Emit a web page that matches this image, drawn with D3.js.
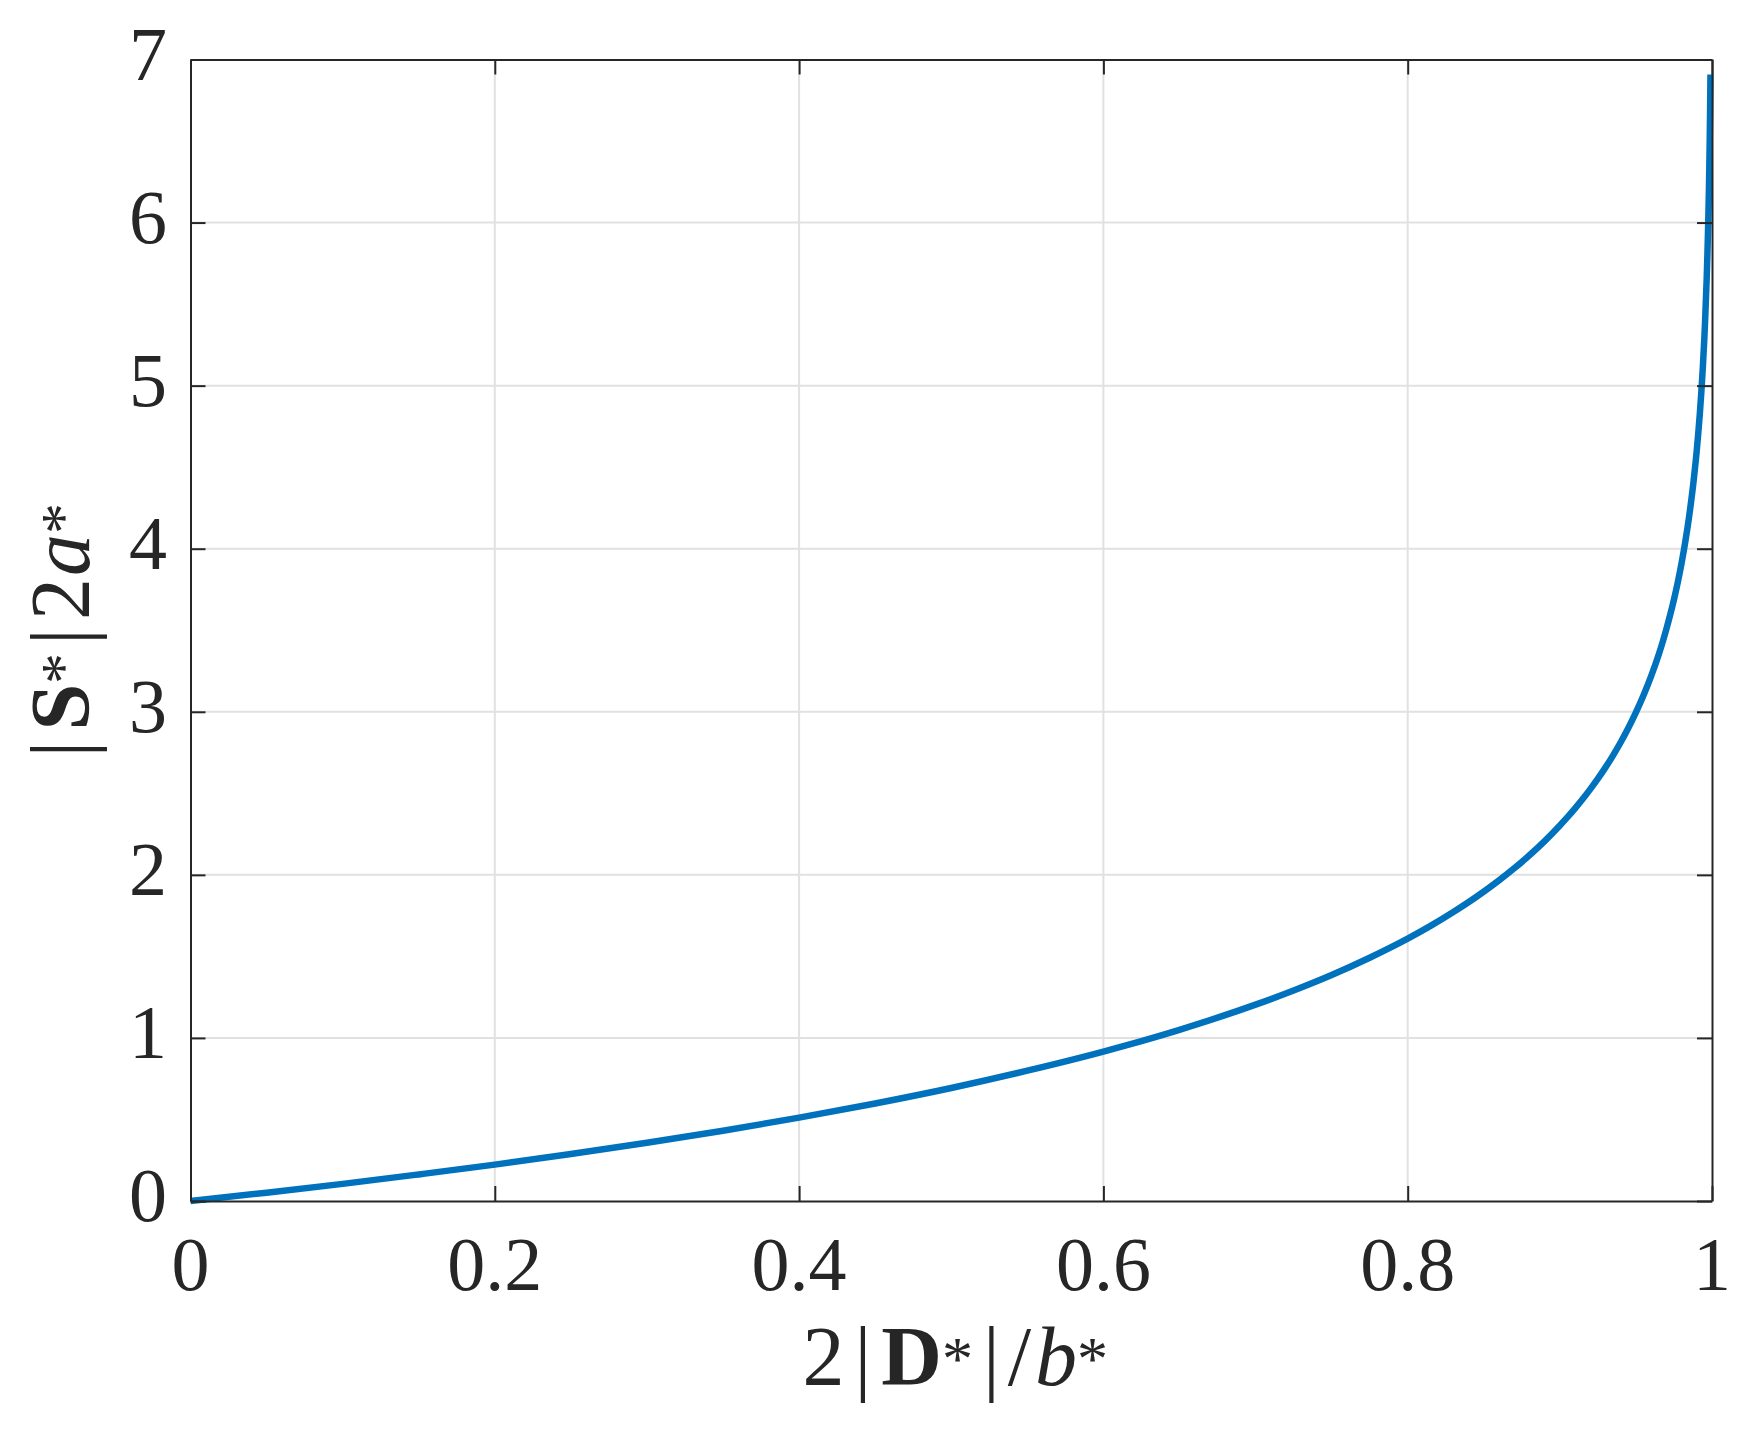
<!DOCTYPE html>
<html>
<head>
<meta charset="utf-8">
<script src="https://cdn.jsdelivr.net/npm/d3@7"></script>
<style>
  html, body { margin: 0; padding: 0; background: #ffffff; }
  svg { display: block; }
</style>
</head>
<body>
<svg id="chart" width="1757" height="1432"></svg>
<script>
// ---- data ----
const xTicks = [0, 0.2, 0.4, 0.6, 0.8, 1];
const xTickLabels = ["0", "0.2", "0.4", "0.6", "0.8", "1"];
const yTicks = [0, 1, 2, 3, 4, 5, 6, 7];
const yTickLabels = ["0", "1", "2", "3", "4", "5", "6", "7"];

const curveX = [0, 0.05, 0.1, 0.15, 0.2, 0.25, 0.3, 0.35, 0.4, 0.45,
  0.5, 0.55, 0.6, 0.625, 0.65, 0.675, 0.7, 0.725, 0.75, 0.775,
  0.8, 0.815, 0.83, 0.845, 0.86, 0.87, 0.88, 0.89, 0.9, 0.905,
  0.91, 0.915, 0.92, 0.925, 0.93, 0.935, 0.94, 0.945, 0.95, 0.955,
  0.96, 0.965, 0.9675, 0.97, 0.9725, 0.975, 0.9775, 0.98, 0.9825, 0.985,
  0.9875, 0.988, 0.9895, 0.99, 0.991, 0.992, 0.993, 0.994, 0.995, 0.9955,
  0.9965, 0.997, 0.9975, 0.998, 0.99825, 0.9985, 0.99875, 0.999];
const curveY = [0, 0.051, 0.105, 0.163, 0.223, 0.288, 0.357, 0.431, 0.511, 0.598,
  0.693, 0.799, 0.916, 0.981, 1.050, 1.124, 1.204, 1.291, 1.386, 1.492,
  1.609, 1.687, 1.772, 1.864, 1.966, 2.040, 2.120, 2.207, 2.303, 2.354,
  2.408, 2.465, 2.526, 2.590, 2.659, 2.733, 2.813, 2.900, 2.996, 3.101,
  3.219, 3.352, 3.426, 3.507, 3.594, 3.689, 3.794, 3.912, 4.046, 4.200,
  4.382, 4.423, 4.556, 4.605, 4.711, 4.828, 4.962, 5.116, 5.298, 5.404,
  5.655, 5.809, 5.991, 6.215, 6.348, 6.502, 6.685, 6.908];

const xDomain = [0, 1];
const yDomain = [0, 7];

// ---- layout ----
const plot = { left: 190.5, right: 1712, top: 59.5, bottom: 1201 };
const textColor = "#262626";
const axisColor = "#262626";
const gridColor = "#e1e1e1";
const lineColor = "#0072BD";
const tickFont = 76;
const labelFont = 84;
const fontFamily = "'Liberation Serif', 'Times New Roman', serif";
const tickLen = 15;

const svg = d3.select("#chart");

const x = d3.scaleLinear().domain(xDomain).range([plot.left, plot.right]);
const y = d3.scaleLinear().domain(yDomain).range([plot.bottom, plot.top]);

// grid
const grid = svg.append("g");
grid.selectAll("line.gx").data(xTicks.filter(d => d > xDomain[0] && d < xDomain[1]))
  .join("line").attr("class", "gx")
  .attr("x1", d => x(d)).attr("x2", d => x(d))
  .attr("y1", plot.top).attr("y2", plot.bottom)
  .attr("stroke", gridColor).attr("stroke-width", 2);
grid.selectAll("line.gy").data(yTicks.filter(d => d > yDomain[0] && d < yDomain[1]))
  .join("line").attr("class", "gy")
  .attr("x1", plot.left).attr("x2", plot.right)
  .attr("y1", d => y(d)).attr("y2", d => y(d))
  .attr("stroke", gridColor).attr("stroke-width", 2);

// axes (inward ticks on all four sides; labels drawn separately)
const axBottom = d3.axisBottom(x).tickValues(xTicks).tickSizeInner(-tickLen).tickSizeOuter(0).tickFormat("");
const axTop = d3.axisTop(x).tickValues(xTicks).tickSizeInner(-tickLen).tickSizeOuter(0).tickFormat("");
const axLeft = d3.axisLeft(y).tickValues(yTicks).tickSizeInner(-tickLen).tickSizeOuter(0).tickFormat("");
const axRight = d3.axisRight(y).tickValues(yTicks).tickSizeInner(-tickLen).tickSizeOuter(0).tickFormat("");

function styleAxis(g) {
  g.selectAll("path.domain").attr("stroke", axisColor).attr("stroke-width", 2);
  g.selectAll(".tick line").attr("stroke", axisColor).attr("stroke-width", 2);
  g.selectAll(".tick text").remove();
}

// data line
const line = d3.line()
  .x((d, i) => x(curveX[i]))
  .y((d, i) => y(curveY[i]))
  .curve(d3.curveMonotoneX);
svg.append("path")
  .attr("d", line(curveX))
  .attr("fill", "none")
  .attr("stroke", lineColor)
  .attr("stroke-width", 6.5)
  .attr("stroke-linejoin", "round");

svg.append("g").attr("transform", `translate(0,${plot.bottom})`).call(axBottom).call(styleAxis);
svg.append("g").attr("transform", `translate(0,${plot.top})`).call(axTop).call(styleAxis);
svg.append("g").attr("transform", `translate(${plot.left},0)`).call(axLeft).call(styleAxis);
svg.append("g").attr("transform", `translate(${plot.right},0)`).call(axRight).call(styleAxis);

// tick labels
svg.append("g").selectAll("text").data(xTicks).join("text")
  .attr("x", d => x(d)).attr("y", 1290)
  .attr("text-anchor", "middle")
  .attr("font-family", fontFamily).attr("font-size", tickFont)
  .attr("fill", textColor)
  .text((d, i) => xTickLabels[i]);

svg.append("g").selectAll("text").data(yTicks).join("text")
  .attr("x", 167).attr("y", d => y(d) + 20)
  .attr("text-anchor", "end")
  .attr("font-family", fontFamily).attr("font-size", tickFont)
  .attr("fill", textColor)
  .text((d, i) => yTickLabels[i]);

// axis labels built from styled pieces
function buildLabel(textSel, parts) {
  parts.forEach(p => {
    const t = textSel.append("tspan").text(p.t);
    if (p.w) t.attr("font-weight", p.w);
    if (p.s) t.attr("font-style", p.s);
    if (p.fs) t.attr("font-size", p.fs);
    if (p.dx) t.attr("dx", p.dx);
    if (p.dy) t.attr("dy", p.dy);
  });
}

const xl = svg.append("text")
  .attr("x", (plot.left + plot.right) / 2 + 4).attr("y", 1385)
  .attr("text-anchor", "middle")
  .attr("font-family", fontFamily).attr("font-size", labelFont)
  .attr("fill", textColor);
buildLabel(xl, [
  { t: "2" },
  { t: "|", dx: 10 },
  { t: "D", w: "bold", dx: 10 },
  { t: "*", fs: 62, dy: -6 },
  { t: "|", dx: 10, dy: 6 },
  { t: "/", dx: 8 },
  { t: "b", s: "italic", dx: 4 },
  { t: "*", fs: 62, dy: -6 }
]);

const yl = svg.append("text")
  .attr("transform", `translate(89,${(plot.top + plot.bottom) / 2}) rotate(-90)`)
  .attr("text-anchor", "middle")
  .attr("font-family", fontFamily).attr("font-size", labelFont)
  .attr("fill", textColor);
buildLabel(yl, [
  { t: "|" },
  { t: "S", w: "bold", dx: 10 },
  { t: "*", fs: 62, dy: -6 },
  { t: "|", dx: 8, dy: 6 },
  { t: "2", dx: 8 },
  { t: "a", s: "italic", dx: 2 },
  { t: "*", fs: 62, dy: -6 }
]);
</script>
</body>
</html>
